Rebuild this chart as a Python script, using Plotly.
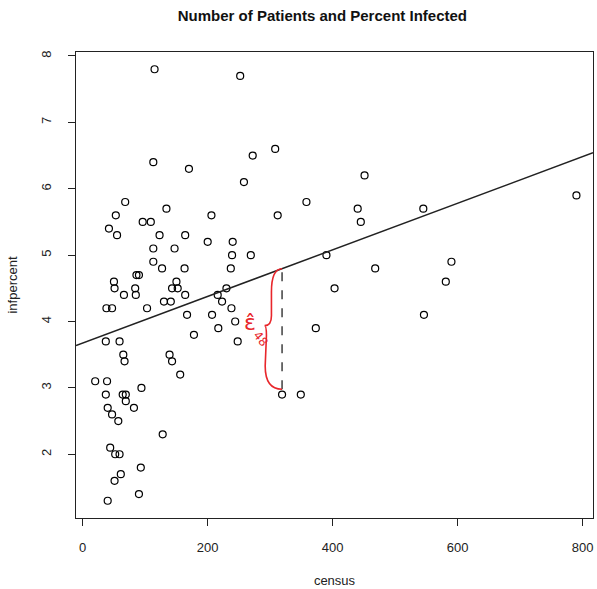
import plotly.graph_objects as go

census = [115, 252, 272, 113, 170, 258, 308, 451, 68, 134, 358, 440, 545, 790,
          53, 206, 312, 96, 109, 445, 42, 55, 123, 164, 200, 240, 113, 147,
          239, 269, 390, 113, 590, 127, 163, 237, 468, 86, 90, 50, 150, 581,
          51, 84, 143, 152, 230, 403, 66, 85, 164, 216, 130, 141, 223, 38, 47,
          103, 238, 167, 207, 546, 244, 217, 373, 178, 37, 59, 248, 65, 139,
          67, 143, 156, 20, 39, 94, 37, 64, 69, 319, 349, 69, 40, 82, 47, 57,
          128, 44, 52, 59, 93, 61, 51, 90, 40]
infpercent = [7.8, 7.7, 6.5, 6.4, 6.3, 6.1, 6.6, 6.2, 5.8, 5.7, 5.8, 5.7, 5.7, 5.9,
              5.6, 5.6, 5.6, 5.5, 5.5, 5.5, 5.4, 5.3, 5.3, 5.3, 5.2, 5.2, 5.1, 5.1,
              5.0, 5.0, 5.0, 4.9, 4.9, 4.8, 4.8, 4.8, 4.8, 4.7, 4.7, 4.6, 4.6, 4.6,
              4.5, 4.5, 4.5, 4.5, 4.5, 4.5, 4.4, 4.4, 4.4, 4.4, 4.3, 4.3, 4.3, 4.2, 4.2,
              4.2, 4.2, 4.1, 4.1, 4.1, 4.0, 3.9, 3.9, 3.8, 3.7, 3.7, 3.7, 3.5, 3.5,
              3.4, 3.4, 3.2, 3.1, 3.1, 3.0, 2.9, 2.9, 2.9, 2.9, 2.9, 2.8, 2.7, 2.7, 2.6, 2.5,
              2.3, 2.1, 2.0, 2.0, 1.8, 1.7, 1.6, 1.4, 1.3]

# fitted regression line
intercept = 3.676
slope = 0.00351

# highlighted residual (observation 48)
x48 = 319
y48 = 2.9

xticks = [0, 200, 400, 600, 800]
yticks = [2, 3, 4, 5, 6, 7, 8]

xr = [-10.7, 816.5]
yr = [1.04, 8.06]

fig = go.Figure()

fig.add_trace(go.Scatter(
    x=census, y=infpercent, mode="markers",
    marker=dict(symbol="circle-open", size=7, color="black",
                line=dict(width=1.2, color="black")),
    showlegend=False, hoverinfo="skip"))

fig.add_trace(go.Scatter(
    x=xr, y=[intercept + slope * v for v in xr], mode="lines",
    line=dict(color="#222222", width=1.5), showlegend=False, hoverinfo="skip"))

yhat = intercept + slope * x48
ybot = y48 + 0.08
fig.add_trace(go.Scatter(
    x=[x48, x48], y=[ybot, yhat], mode="lines",
    line=dict(color="#222222", width=1.3, dash="dash"),
    showlegend=False, hoverinfo="skip"))

# curly brace
bx_top = x48 - 17
bx_bot = x48 - 27
tip = x48 - 28
mid = (yhat + ybot) / 2 + 0.05
path = (f"M {x48},{yhat} Q {bx_top},{yhat} {bx_top},{yhat-0.35} "
        f"L {bx_top},{mid+0.15} Q {bx_top},{mid} {tip},{mid} "
        f"Q {bx_bot+2},{mid} {bx_bot+2},{mid-0.15} "
        f"L {bx_bot},{ybot+0.35} Q {bx_bot},{ybot} {x48},{ybot}")
fig.add_shape(type="path", path=path, xref="x", yref="y",
              line=dict(color="#e8262b", width=1.6))

fig.add_annotation(x=tip - 24, y=mid + 0.05, xref="x", yref="y",
                   text="\u03b5\u0302", showarrow=False, xanchor="center",
                   font=dict(family="DejaVu Sans", size=22, color="#e8262b"))
fig.add_annotation(x=tip - 6, y=mid - 0.2, xref="x", yref="y",
                   text="48", showarrow=False, textangle=50,
                   font=dict(family="DejaVu Sans", size=12, color="#e8262b"))

fig.update_layout(
    width=597, height=589,
    margin=dict(l=76, r=4, t=52, b=71),
    paper_bgcolor="white", plot_bgcolor="white",
    font=dict(family="Liberation Sans, Arial", size=12, color="#222222"),
    title=dict(text="<b>Number of Patients and Percent Infected</b>",
               x=0.54, xanchor="center", y=1 - 16 / 589, yanchor="middle",
               font=dict(size=15, color="#111111")),
)
fig.update_xaxes(
    range=xr, tickvals=xticks, ticktext=[str(v) for v in xticks],
    showgrid=False, zeroline=False, showline=True, mirror=True,
    linecolor="#222222", linewidth=1.3, ticks="outside", ticklen=7,
    tickwidth=1, tickcolor="#222222", tickfont=dict(size=13),
    ticklabelstandoff=10,
    title=dict(text="census", font=dict(size=13), standoff=22))
fig.update_yaxes(
    range=yr, tickvals=yticks, ticktext=[str(v) for v in yticks],
    showgrid=False, zeroline=False, showline=True, mirror=True,
    linecolor="#222222", linewidth=1.3, ticks="outside", ticklen=7,
    tickwidth=1, tickcolor="#222222", tickangle=-90, tickfont=dict(size=13),
    ticklabelstandoff=12,
    title=dict(text="infpercent", font=dict(size=13), standoff=18))

fig.write_html("out.html")
